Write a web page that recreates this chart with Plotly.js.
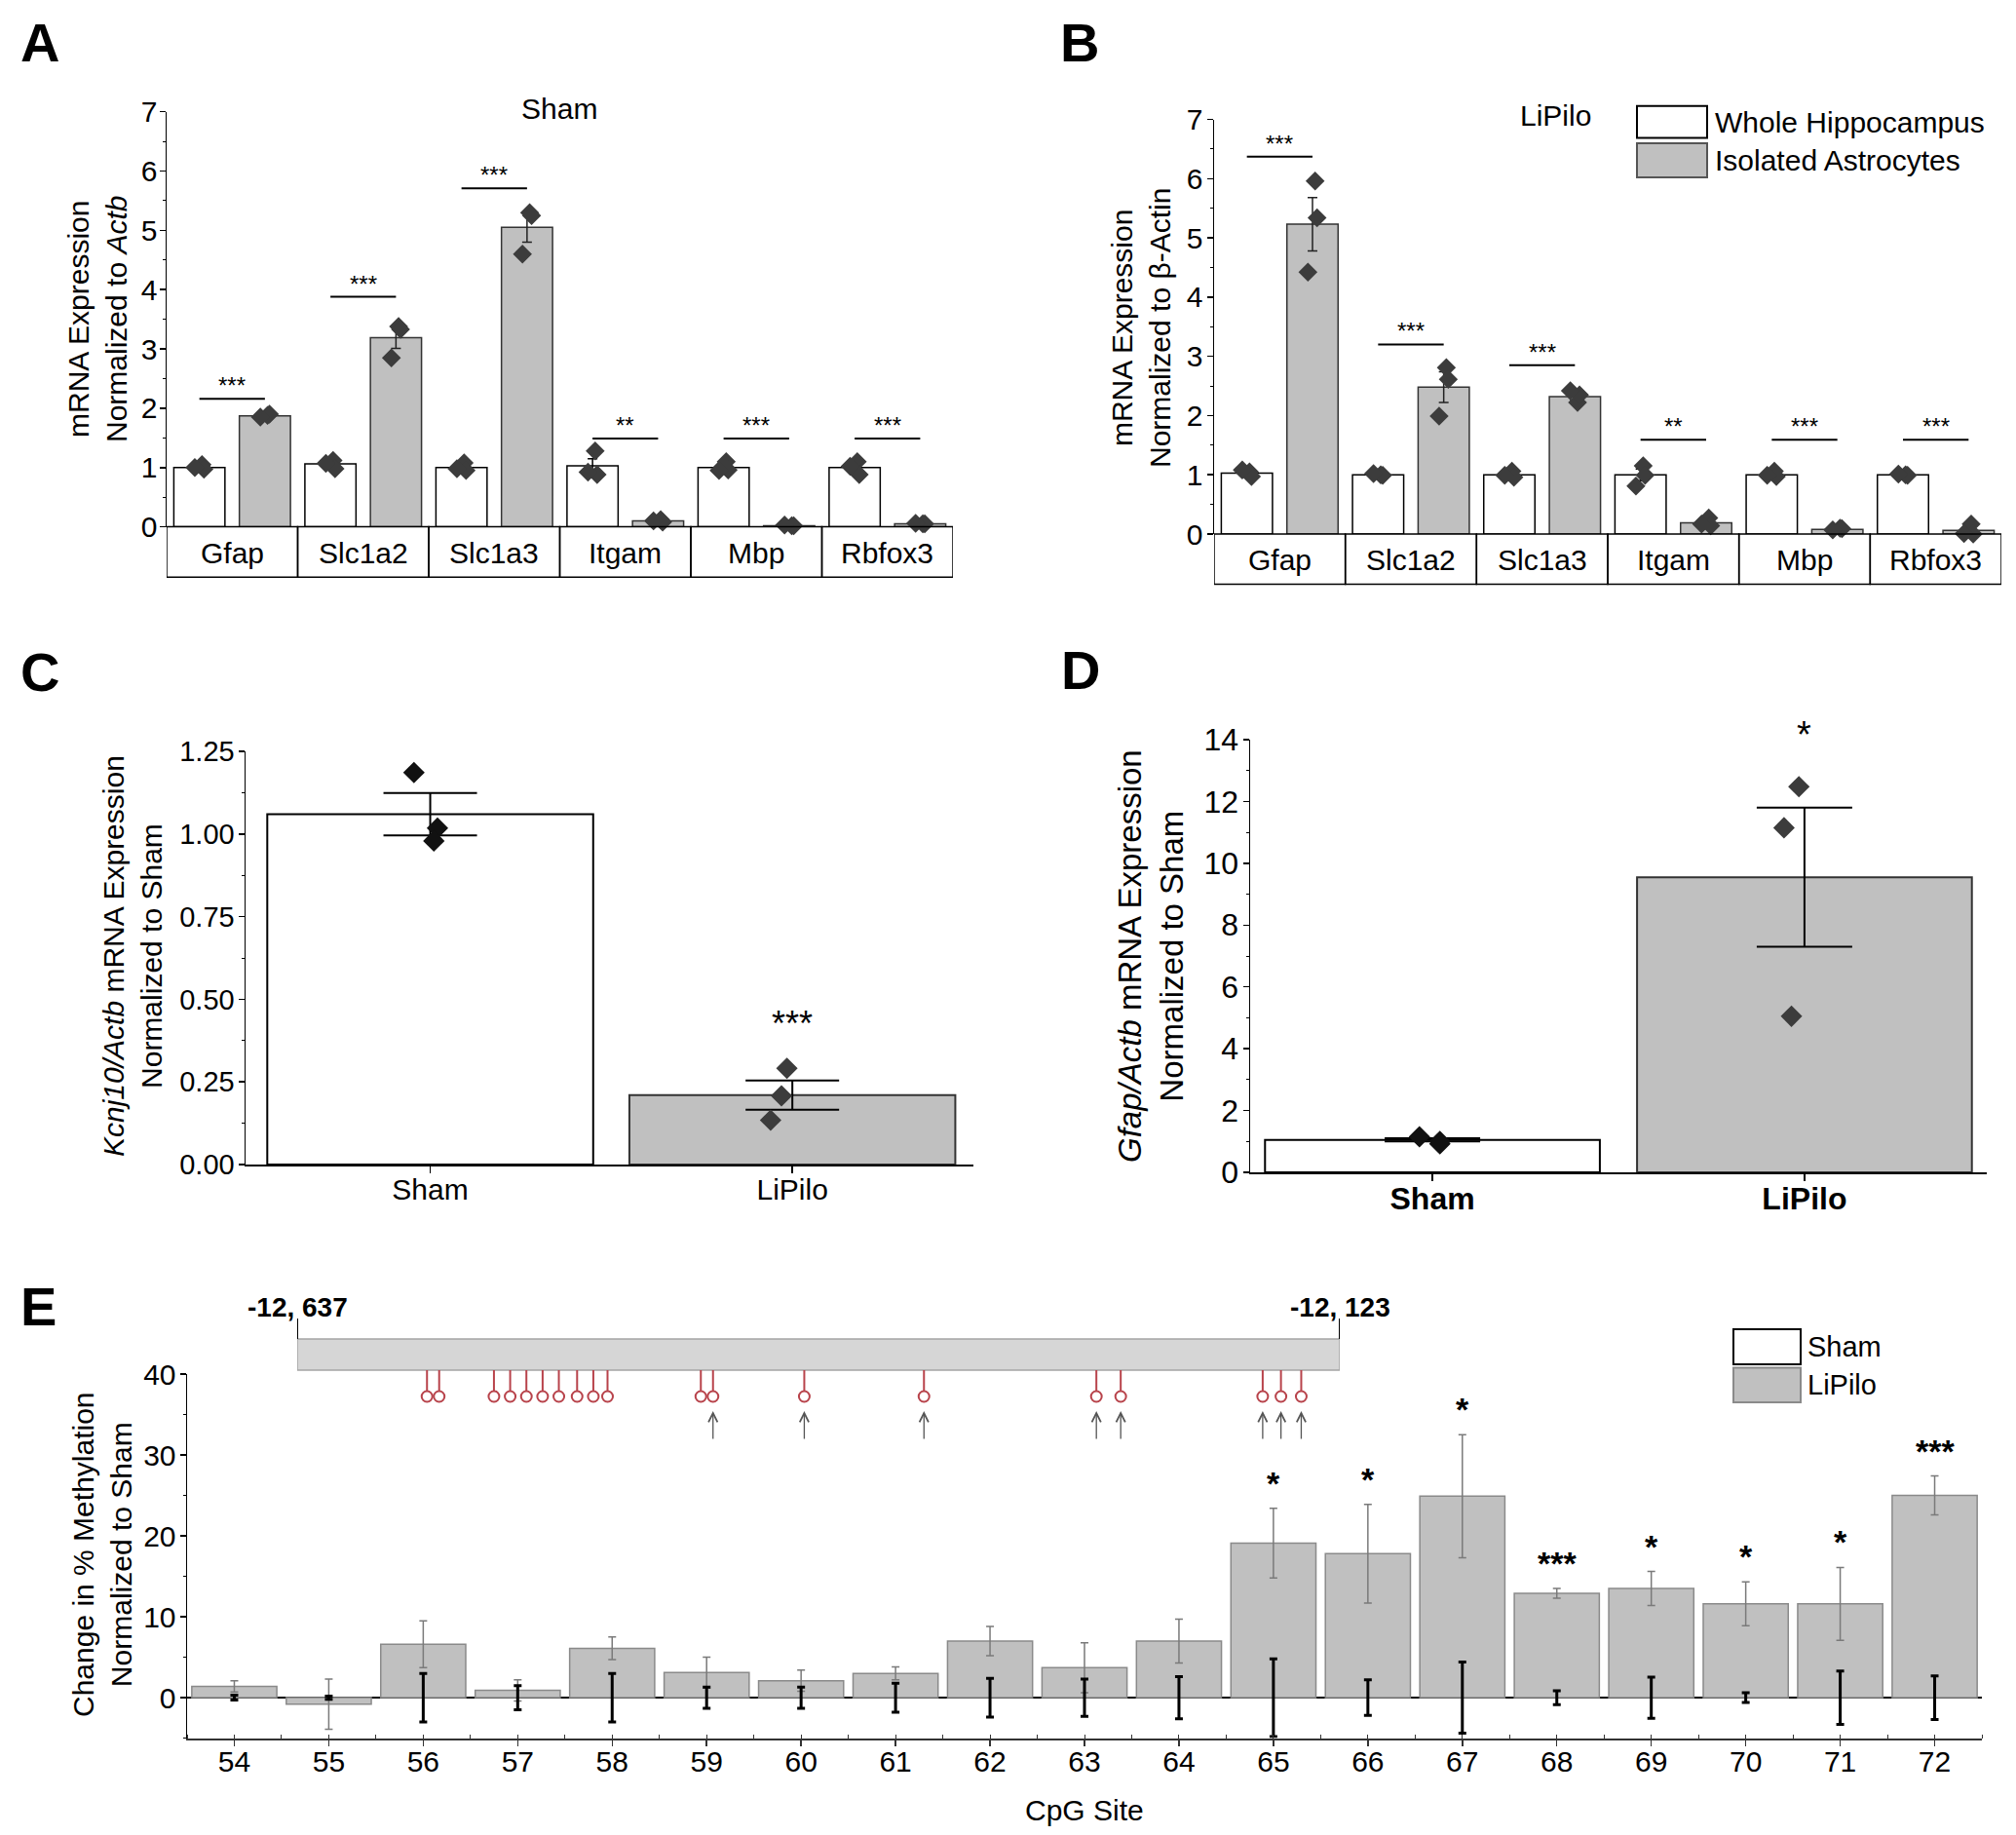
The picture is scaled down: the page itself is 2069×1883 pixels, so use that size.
<!DOCTYPE html>
<html>
<head>
<meta charset="utf-8">
<script src="https://cdn.plot.ly/plotly-3.0.1.min.js"></script>
<style>html,body{margin:0;padding:0;background:#fff;}</style>
</head>
<body>
<div id="chart" style="width:2069px;height:1883px;"></div>
<script>
// ---------------- DATA ----------------
// Panels A & B
const genes = ['Gfap','Slc1a2','Slc1a3','Itgam','Mbp','Rbfox3'];
const groupNames = ['Whole Hippocampus','Isolated Astrocytes'];

const shamWhole     = [1.00, 1.06, 1.00, 1.03, 1.00, 1.00];
const shamWholeErr  = [0.03, 0.04, 0.04, 0.12, 0.05, 0.06];
const shamAstro     = [1.87, 3.19, 5.05, 0.10, 0.02, 0.05];
const shamAstroErr  = [0.02, 0.18, 0.25, 0.02, 0.005, 0.005];
const shamWholePts  = [[1.05,0.97,1.00],[1.12,0.98,1.07],[1.08,0.95,0.98],[1.28,0.88,0.92],[1.10,0.96,0.95],[1.10,0.88,1.02]];
const shamAstroPts  = [[1.88,1.90,1.85],[3.38,3.33,2.85],[5.30,5.25,4.60],[0.12,0.08,0.10],[0.02,0.02,0.03],[0.05,0.05,0.06]];
const shamSigY      = [2.16, 3.88, 5.71, 1.49, 1.49, 1.49];
const shamSig       = ['***','***','***','**','***','***'];

const lipWhole      = [1.03, 1.00, 1.00, 1.00, 1.00, 1.00];
const lipWholeErr   = [0.04, 0.02, 0.03, 0.10, 0.03, 0.01];
const lipAstro      = [5.23, 2.48, 2.32, 0.19, 0.08, 0.06];
const lipAstroErr   = [0.45, 0.26, 0.06, 0.04, 0.01, 0.04];
const lipWholePts   = [[1.05,0.97,1.08],[1.00,0.99,1.02],[1.06,0.96,0.99],[1.15,0.99,0.81],[1.06,0.97,0.99],[1.00,0.99,1.01]];
const lipAstroPts   = [[5.96,5.34,4.42],[2.81,2.61,1.99],[2.22,2.35,2.42],[0.27,0.14,0.17],[0.10,0.09,0.07],[0.17,0.00,0.01]];
const lipSigY       = [6.37, 3.20, 2.85, 1.59, 1.59, 1.59];
const lipSig        = ['***','***','***','**','***','***'];

// Panels C & D
const conditions = ['Sham','LiPilo'];
const kcnj10Mean = [1.06, 0.21];
const kcnj10Err  = [0.064, 0.044];
const kcnj10Pts  = [[1.186,1.018,0.979],[0.291,0.208,0.134]];
const kcnj10Sig  = ['', '***'];

const gfapMean = [1.05, 9.55];
const gfapErr  = [0.05, 2.25];
const gfapPts  = [[1.15,1.00,0.92],[12.48,11.15,5.05]];
const gfapSig  = ['', '*'];

// Panel E
const cpgSites     = [54,55,56,57,58,59,60,61,62,63,64,65,66,67,68,69,70,71,72];
const lipiloChange = [1.4,-0.8,6.6,0.9,6.1,3.1,2.1,3.0,7.0,3.7,7.0,19.1,17.8,24.9,12.9,13.5,11.6,11.6,25.0];
const lipiloErr    = [0.7,3.1,2.9,1.3,1.4,1.9,1.3,0.8,1.8,3.1,2.7,4.3,6.1,7.6,0.6,2.1,2.7,4.5,2.4];
const shamChange   = [0,0,0,0,0,0,0,0,0,0,0,0,0,0,0,0,0,0,0];
const shamErr      = [0.3,0.2,3.0,1.5,3.0,1.3,1.3,1.8,2.4,2.3,2.6,4.8,2.2,4.4,0.85,2.55,0.6,3.3,2.7];
const cpgSig       = ['','','','','','','','','','','','*','*','*','***','*','*','*','***'];

// Gene region schematic (bp)
const regionStart = -12637;
const regionEnd   = -12123;
const cpgPos      = [-12573,-12567,-12540,-12532,-12524,-12516,-12508,-12499,-12491,-12484,-12438,-12432,-12387,-12328,-12243,-12231,-12161,-12152,-12142];
const cpgAnalyzed = [0,0,0,0,0,0,0,0,0,0,0,1,1,1,1,1,1,1,1];

// ---------------- HELPERS ----------------
const W = 2069, H = 1883;
const px = v => v / W;
const py = v => 1 - v / H;
const FONT = 'Liberation Sans, Arial, sans-serif';
const GRAY = '#c0c0c0';
const DOT = '#3c3c3c';
const RED = '#b8434b';
const jit = [0.02, 0.035, -0.035];

const traces = [];
const shapes = [];
const annotations = [];

function groupedPanel(xa, ya, whole, wholeErr, astro, astroErr, wholePts, astroPts, sigY, sig) {
  const xW = genes.map((g, i) => i - 0.25);
  const xA = genes.map((g, i) => i + 0.25);
  traces.push({type:'bar', x:xW, y:whole, width:0.39, xaxis:xa, yaxis:ya,
    marker:{color:'white', line:{color:'black', width:1.5}},
    error_y:{type:'data', array:wholeErr, color:'black', thickness:1.5, width:5}});
  traces.push({type:'bar', x:xA, y:astro, width:0.39, xaxis:xa, yaxis:ya,
    marker:{color:GRAY, line:{color:'#333', width:1.5}},
    error_y:{type:'data', array:astroErr, color:'#222', thickness:1.5, width:5}});
  const px_ = [], py_ = [];
  genes.forEach((g, i) => {
    wholePts[i].forEach((v, j) => { px_.push(xW[i] + jit[j]); py_.push(v); });
    astroPts[i].forEach((v, j) => { px_.push(xA[i] + jit[j]); py_.push(v); });
  });
  traces.push({type:'scatter', mode:'markers', x:px_, y:py_, xaxis:xa, yaxis:ya, cliponaxis:false,
    marker:{symbol:'diamond', size:15, color:DOT}});
  const yd = ya + ' domain';
  genes.forEach((g, i) => {
    shapes.push({type:'rect', xref:xa, yref:yd, x0:i-0.5, x1:i+0.5, y0:0, y1:-0.121,
      line:{color:'black', width:1.5}, fillcolor:'rgba(0,0,0,0)'});
    annotations.push({xref:xa, yref:yd, x:i, y:-0.062, text:g, showarrow:false,
      xanchor:'center', yanchor:'middle', font:{size:30}});
    shapes.push({type:'line', xref:xa, yref:ya, x0:xW[i], x1:xA[i], y0:sigY[i], y1:sigY[i],
      line:{color:'black', width:2}});
    annotations.push({xref:xa, yref:ya, x:i, y:sigY[i], text:sig[i], showarrow:false,
      xanchor:'center', yanchor:'bottom', yshift:-2, font:{size:24}});
  });
}

groupedPanel('x', 'y', shamWhole, shamWholeErr, shamAstro, shamAstroErr, shamWholePts, shamAstroPts, shamSigY, shamSig);
groupedPanel('x2', 'y2', lipWhole, lipWholeErr, lipAstro, lipAstroErr, lipWholePts, lipAstroPts, lipSigY, lipSig);

function twoBarPanel(xa, ya, mean, err, pts, sig, offsets, capW, sigShift, sigSize) {
  const xs = conditions.map((c, i) => i);
  traces.push({type:'bar', x:xs, y:mean, width:0.9, xaxis:xa, yaxis:ya,
    marker:{color:['white', GRAY], line:{color:['black', '#333'], width:2}},
    error_y:{type:'data', array:err, color:'black', thickness:2, width:capW}});
  conditions.forEach((c, i) => {
    traces.push({type:'scatter', mode:'markers', xaxis:xa, yaxis:ya, cliponaxis:false,
      x:pts[i].map((v, j) => i + offsets[i][j]), y:pts[i],
      marker:{symbol:'diamond', size:17, color:i === 0 ? '#111' : DOT}});
    if (sig[i]) annotations.push({xref:xa, yref:ya, x:i, y:mean[i] + err[i], text:sig[i],
      showarrow:false, xanchor:'center', yanchor:'bottom', yshift:sigShift, font:{size:sigSize}});
  });
}
twoBarPanel('x3', 'y3', kcnj10Mean, kcnj10Err, kcnj10Pts, kcnj10Sig,
  [[-0.045, 0.02, 0.01], [-0.015, -0.03, -0.06]], 48, 36, 36);
twoBarPanel('x4', 'y4', gfapMean, gfapErr, gfapPts, gfapSig,
  [[-0.035, 0.02, 0.02], [-0.015, -0.055, -0.035]], 49, 52, 38);

// Panel E
traces.push({type:'bar', x:cpgSites, y:lipiloChange, width:0.9, xaxis:'x5', yaxis:'y5',
  marker:{color:GRAY, line:{color:'#8a8a8a', width:1.5}},
  error_y:{type:'data', array:lipiloErr, color:'#7a7a7a', thickness:1.5, width:4}});
traces.push({type:'bar', x:cpgSites, y:shamChange, width:0.9, xaxis:'x5', yaxis:'y5',
  marker:{color:'rgba(0,0,0,0)', line:{width:0}},
  error_y:{type:'data', array:shamErr, color:'black', thickness:3, width:4}});
cpgSites.forEach((s, i) => {
  if (cpgSig[i]) annotations.push({xref:'x5', yref:'y5', x:s, y:lipiloChange[i] + lipiloErr[i],
    text:cpgSig[i], showarrow:false, xanchor:'center', yanchor:'bottom', yshift:5,
    font:{size:34, weight:'bold'}});
});

// Gene region schematic on x6/y6 (y6 units: px offset from top of schematic)
const stemX = [], stemY = [];
cpgPos.forEach(p => { stemX.push(p, p, null); stemY.push(66, 88, null); });
traces.push({type:'scatter', mode:'lines', x:stemX, y:stemY, xaxis:'x6', yaxis:'y6',
  line:{color:RED, width:2}, hoverinfo:'skip'});
traces.push({type:'scatter', mode:'markers', x:cpgPos, y:cpgPos.map(() => 93), xaxis:'x6', yaxis:'y6',
  cliponaxis:false, marker:{symbol:'circle', size:11, color:'white', line:{color:RED, width:2}}});
shapes.push({type:'rect', xref:'x6', yref:'y6', x0:regionStart, x1:regionEnd, y0:34, y1:66,
  fillcolor:'#d6d6d6', line:{color:'#a5a5a5', width:1.5}, layer:'below'});
[regionStart, regionEnd].forEach(v => {
  shapes.push({type:'line', xref:'x6', yref:'y6', x0:v, x1:v, y0:13, y1:34, line:{color:'black', width:2}});
  const lbl = Math.trunc(v / 1000) + ', ' + String(Math.abs(v) % 1000).padStart(3, '0');
  annotations.push({xref:'x6', yref:'y6', x:v, y:1, text:'<b>' + lbl + '</b>', showarrow:false,
    xanchor:'center', yanchor:'middle', font:{size:28}});
});
cpgPos.forEach((p, i) => {
  if (cpgAnalyzed[i]) annotations.push({xref:'x6', yref:'y6', axref:'x6', ayref:'y6',
    x:p, y:108, ax:p, ay:138, text:'', showarrow:true, arrowhead:5, arrowsize:1.4,
    arrowwidth:1.3, arrowcolor:'#555'});
});

// ---------------- AXES ----------------
const yBase = {showline:true, linecolor:'black', linewidth:1.5, ticks:'outside', ticklen:6, tickwidth:1.5,
  tickcolor:'black', showgrid:false, zeroline:false, tickfont:{size:30}, ticklabelstandoff:-2,
  minor:{ticks:'outside', ticklen:3, tickwidth:1, tickcolor:'black'}};
const xHidden = {showline:false, showgrid:false, zeroline:false, showticklabels:false, ticks:''};

const layout = {
  width:W, height:H, margin:{l:0, r:0, t:0, b:0},
  paper_bgcolor:'white', plot_bgcolor:'rgba(0,0,0,0)',
  barmode:'overlay', showlegend:false,
  font:{family:FONT, color:'black', size:30},
  xaxis: Object.assign({}, xHidden, {domain:[px(171), px(978)], range:[-0.5, 5.5], anchor:'y'}),
  yaxis: Object.assign({}, yBase, {domain:[py(540.6), py(114.7)], range:[0, 7], dtick:1, tick0:0,
    ticklabelstandoff:-4, minor:Object.assign({}, yBase.minor, {dtick:0.5}), anchor:'x'}),
  xaxis2: Object.assign({}, xHidden, {domain:[px(1246), px(2054)], range:[-0.5, 5.5], anchor:'y2'}),
  yaxis2: Object.assign({}, yBase, {domain:[py(548), py(122.5)], range:[0, 7], dtick:1, tick0:0,
    minor:Object.assign({}, yBase.minor, {dtick:0.5}), anchor:'x2'}),
  xaxis3: {domain:[px(252), px(999)], range:[-0.51, 1.5], anchor:'y3', showline:true, linecolor:'black',
    linewidth:2, ticks:'outside', ticklen:7, tickwidth:1.5, tickcolor:'black', tickmode:'array',
    tickvals:conditions.map((c, i) => i), ticktext:conditions, tickfont:{size:30}, showgrid:false, zeroline:false,
    ticklabelstandoff:-9},
  yaxis3: Object.assign({}, yBase, {domain:[py(1195), py(771)], range:[0, 1.25], dtick:0.25, tick0:0,
    tickformat:'.2f', tickfont:{size:29}, minor:Object.assign({}, yBase.minor, {dtick:0.125}), anchor:'x3'}),
  xaxis4: {domain:[px(1283), px(2039)], range:[-0.49, 1.49], anchor:'y4', showline:true, linecolor:'black',
    linewidth:2, ticks:'outside', ticklen:7, tickwidth:1.5, tickcolor:'black', tickmode:'array',
    tickvals:conditions.map((c, i) => i), ticktext:conditions, tickfont:{size:32, weight:'bold'},
    showgrid:false, zeroline:false, ticklabelstandoff:-9},
  yaxis4: Object.assign({}, yBase, {domain:[py(1203), py(759)], range:[0, 14], dtick:2, tick0:0,
    tickfont:{size:32}, minor:Object.assign({}, yBase.minor, {dtick:1}), anchor:'x4'}),
  xaxis5: {domain:[px(192), px(2034)], range:[53.5, 72.5], anchor:'y5', showline:true, linecolor:'#333',
    linewidth:2, ticks:'outside', ticklen:6, tickwidth:1.5, tickcolor:'#333', dtick:1, tick0:54,
    tickfont:{size:30}, showgrid:false, zeroline:false, ticklabelstandoff:-10,
    minor:{ticks:'inside', ticklen:4, tickwidth:1, tickcolor:'#333', dtick:0.5, tick0:54}},
  yaxis5: Object.assign({}, yBase, {domain:[py(1783.6), py(1410)], range:[-5, 40], dtick:10, tick0:0,
    zeroline:true, zerolinecolor:'black', zerolinewidth:2,
    minor:Object.assign({}, yBase.minor, {dtick:5, tick0:0}), anchor:'x5'}),
  xaxis6: {domain:[px(305), px(1375)], range:[regionStart, regionEnd], anchor:'y6', visible:false,
    showgrid:false, zeroline:false},
  yaxis6: {domain:[py(1480), py(1340)], range:[140, 0], anchor:'x6', visible:false,
    showgrid:false, zeroline:false},
  shapes: shapes,
  annotations: annotations
};

// Panel letters
[['A', 41, 43], ['B', 1108, 44], ['C', 41, 689], ['D', 1109, 688], ['E', 39, 1340]].forEach(([t, x, y]) => {
  annotations.push({xref:'paper', yref:'paper', x:px(x), y:py(y), text:'<b>' + t + '</b>', showarrow:false,
    xanchor:'center', yanchor:'middle', font:{size:56}});
});

// Panel titles
annotations.push({xref:'paper', yref:'paper', x:px(574), y:py(112), text:'Sham', showarrow:false,
  xanchor:'center', yanchor:'middle', font:{size:30}});
annotations.push({xref:'paper', yref:'paper', x:px(1596), y:py(118), text:'LiPilo', showarrow:false,
  xanchor:'center', yanchor:'middle', font:{size:30}});

// Y-axis titles
const yTitles = [
  ['mRNA Expression<br>Normalized to <i>Actb</i>', 100, 328, 30],
  ['mRNA Expression<br>Normalized to β-Actin', 1171, 337, 30],
  ['<i>Kcnj10/Actb</i> mRNA Expression<br>Normalized to Sham', 136, 981, 30],
  ['<i>Gfap/Actb</i> mRNA Expression<br>Normalized to Sham', 1181, 981, 33],
  ['Change in % Methylation<br>Normalized to Sham', 105, 1595, 30]
];
yTitles.forEach(([t, x, y, s]) => annotations.push({xref:'paper', yref:'paper', x:px(x), y:py(y), text:t,
  textangle:-90, showarrow:false, xanchor:'center', yanchor:'middle', font:{size:s}}));

// X title for E
annotations.push({xref:'paper', yref:'paper', x:px(1113), y:py(1857), text:'CpG Site', showarrow:false,
  xanchor:'center', yanchor:'middle', font:{size:30}});

// Legends (drawn manually as large boxes)
function legendEntry(x0, x1, y0, y1, fill, lineColor, label, tx, size) {
  shapes.push({type:'rect', xref:'paper', yref:'paper', x0:px(x0), x1:px(x1), y0:py(y1), y1:py(y0),
    fillcolor:fill, line:{color:lineColor, width:2}});
  annotations.push({xref:'paper', yref:'paper', x:px(tx), y:py((y0 + y1) / 2), text:label, showarrow:false,
    xanchor:'left', yanchor:'middle', font:{size:size}});
}
legendEntry(1680, 1752, 108.7, 141.5, 'white', 'black', groupNames[0], 1758, 30);
legendEntry(1680, 1752, 147, 182, GRAY, '#555', groupNames[1], 1758, 30);
legendEntry(1779, 1848, 1364, 1400, 'white', 'black', conditions[0], 1853, 29);
legendEntry(1779, 1848, 1403.5, 1439, GRAY, '#8a8a8a', conditions[1], 1853, 29);

Plotly.newPlot('chart', traces, layout, {staticPlot:true, displayModeBar:false});
</script>
</body>
</html>
